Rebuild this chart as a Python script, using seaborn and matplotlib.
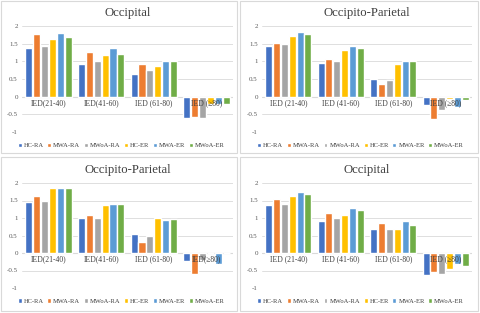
import matplotlib
matplotlib.use('Agg')
import matplotlib.pyplot as plt
import seaborn as sns
import pandas as pd
from matplotlib.patches import Rectangle

# series / colours (Excel default palette)
series = ['HC-RA', 'MWA-RA', 'MWoA-RA', 'HC-ER', 'MWA-ER', 'MWoA-ER']
colors = ['#4472C4', '#ED7D31', '#A5A5A5', '#FFC000', '#5B9BD5', '#70AD47']

# top-left: Occipital
cats_tl = ['IED(21-40)', 'IED(41-60)', 'IED (61-80)', 'IED (≥80)']
vals_tl = [
    [1.38, 0.92, 0.65, -0.60],
    [1.77, 1.27, 0.92, -0.58],
    [1.44, 1.00, 0.75, -0.60],
    [1.62, 1.18, 0.87, -0.20],
    [1.80, 1.38, 1.02, -0.20],
    [1.70, 1.22, 1.00, -0.22],
]

# top-right: Occipito-Parietal
cats_tr = ['IED (21-40)', 'IED (41-60)', 'IED (61-80)', 'IED (≥80)']
vals_tr = [
    [1.42, 0.95, 0.50, -0.25],
    [1.53, 1.06, 0.35, -0.63],
    [1.48, 1.00, 0.48, -0.38],
    [1.73, 1.32, 0.93, -0.07],
    [1.84, 1.43, 1.00, -0.30],
    [1.78, 1.37, 1.00, -0.10],
]

# bottom-left: Occipito-Parietal
cats_bl = ['IED(21-40)', 'IED(41-60)', 'IED (61-80)', 'IED(≥80)']
vals_bl = [
    [1.45, 1.00, 0.53, -0.22],
    [1.64, 1.08, 0.32, -0.60],
    [1.50, 1.00, 0.50, -0.20],
    [1.87, 1.38, 1.00, -0.01],
    [1.87, 1.40, 0.94, -0.32],
    [1.87, 1.40, 0.97, -0.01],
]

# bottom-right: Occipital
cats_br = ['IED (21-40)', 'IED (41-60)', 'IED (61-80)', 'IED (≥80)']
vals_br = [
    [1.36, 0.92, 0.68, -0.63],
    [1.54, 1.15, 0.86, -0.55],
    [1.40, 1.00, 0.70, -0.60],
    [1.62, 1.10, 0.70, -0.45],
    [1.75, 1.28, 0.92, -0.30],
    [1.68, 1.22, 0.80, -0.38],
]

sns.set_style('white')
plt.rcParams['font.family'] = ['Liberation Serif', 'DejaVu Serif']
plt.rcParams['axes.unicode_minus'] = False

W, H = 480, 313
fig = plt.figure(figsize=(4.8, 3.13), dpi=100)

def fx(px):
    return px / W

def fy(py):
    return 1 - py / H

panels = [
    ('Occipital', cats_tl, vals_tl, (22, 26, 233, 132), (1, 1, 237, 153)),
    ('Occipito-Parietal', cats_tr, vals_tr, (262, 26, 472, 132), (240, 1, 478, 153)),
    ('Occipito-Parietal', cats_bl, vals_bl, (22, 183, 233, 288), (1, 157, 237, 311)),
    ('Occipital', cats_br, vals_br, (262, 183, 472, 288), (240, 157, 478, 311)),
]

for title, cats, vals, ab, bb in panels:
    # panel frame
    fig.patches.append(Rectangle((fx(bb[0]), fy(bb[3])), fx(bb[2] - bb[0]), (bb[3] - bb[1]) / H,
                                 transform=fig.transFigure, fill=False,
                                 edgecolor='#D9D9D9', linewidth=0.8))
    ax = fig.add_axes([fx(ab[0]), fy(ab[3]), fx(ab[2] - ab[0]), (ab[3] - ab[1]) / H])

    rows = []
    for s, v in zip(series, vals):
        for c, y in zip(cats, v):
            rows.append({'cat': c, 'series': s, 'value': y})
    df = pd.DataFrame(rows)

    sns.barplot(data=df, x='cat', y='value', hue='series', hue_order=series,
                palette=colors, width=0.9, gap=0.1, ax=ax, legend=True,
                errorbar=None, saturation=1)

    ax.set_ylim(-1, 2)
    ax.set_yticks([-1, -0.5, 0, 0.5, 1, 1.5, 2])
    ax.yaxis.set_major_formatter(plt.FuncFormatter(lambda v, p: f'{v:g}'))
    ax.grid(axis='y', color='#D9D9D9', linewidth=0.6)
    ax.set_axisbelow(True)
    ax.axhline(0, color='#D9D9D9', linewidth=0.8, zorder=0.5)
    for sp in ax.spines.values():
        sp.set_visible(False)
    ax.tick_params(axis='y', labelsize=5, length=0, pad=3, colors='#595959')
    ax.set_xticks([])
    ax.set_xlabel('')
    ax.set_ylabel('')
    ax.set_xlim(-0.5, len(cats) - 0.5)

    for i, c in enumerate(cats):
        ax.text(i, -0.06, c, ha='center', va='top', fontsize=5.5, color='#404040')

    ax.text(0.5, 1.12, title, transform=ax.transAxes, ha='center', va='center',
            fontsize=9.2, color='#404040')

    ax.legend(loc='center', bbox_to_anchor=(0.47, -0.125), ncol=6, frameon=False,
              fontsize=4.7, handlelength=0.6, handleheight=0.6, handletextpad=0.3,
              columnspacing=0.55, labelcolor='#404040', borderpad=0, borderaxespad=0)

fig.savefig('out.png', dpi=100)
